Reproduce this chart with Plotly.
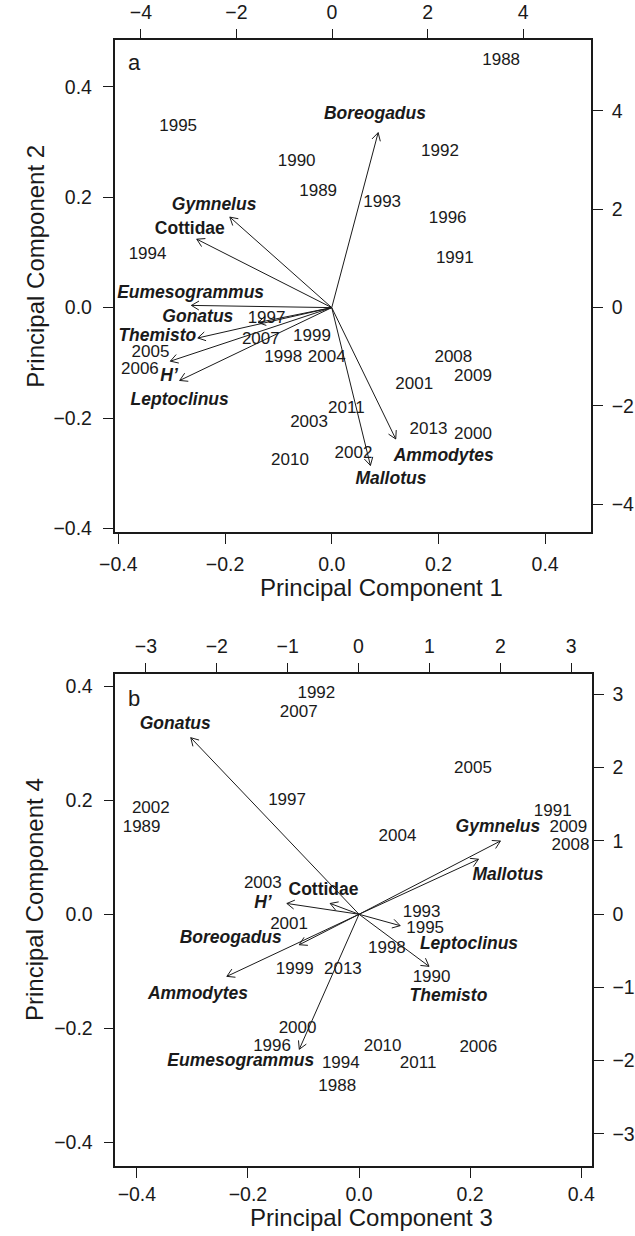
import plotly.graph_objects as go
import math

W, H = 635, 1236
FONT = "Liberation Sans, Arial, Helvetica, sans-serif"
INK = "#1a1a1a"

# ---------------- Panel a: PC1 vs PC2 ----------------
a_species = ["Boreogadus", "Gymnelus", "Cottidae", "Eumesogrammus", "Gonatus",
             "Themisto", "H’", "Leptoclinus", "Ammodytes", "Mallotus"]
a_italic = [True, True, False, True, True, True, True, True, True, True]
a_load_x = [0.087, -0.191, -0.253, -0.263, -0.138, -0.251, -0.3025, -0.285, 0.120, 0.0725]
a_load_y = [0.317, 0.164, 0.124, 0.004, -0.027, -0.055, -0.097, -0.132, -0.238, -0.286]
a_lab_x = [0.081, -0.2205, -0.266, -0.2645, -0.251, -0.327, -0.305, -0.285, 0.210, 0.111]
a_lab_y = [0.350, 0.184, 0.142, 0.026, -0.0174, -0.053, -0.1255, -0.169, -0.270, -0.312]

a_years = ["1988", "1995", "1990", "1992", "1989", "1993", "1996", "1994", "1991",
           "1997", "2007", "1999", "2005", "1998", "2004", "2006", "2008", "2009",
           "2001", "2011", "2003", "2013", "2000", "2002", "2010"]
a_year_x = [3.54, -3.22, -0.74, 2.26, -0.29, 1.05, 2.42, -3.86, 2.57,
            -1.37, -1.49, -0.42, -3.80, -1.02, -0.11, -4.02, 2.54, 2.95,
            1.72, 0.30, -0.48, 2.02, 2.95, 0.45, -0.88]
a_year_y = [5.02, 3.68, 2.97, 3.17, 2.36, 2.13, 1.80, 1.08, 1.00,
            -0.23, -0.65, -0.59, -0.93, -1.03, -1.02, -1.26, -1.03, -1.40,
            -1.58, -2.06, -2.34, -2.49, -2.59, -2.98, -3.12]

a_xrange = [-0.407, 0.486]
a_yrange = [-0.407, 0.484]
a_x2range = [-4.55, 5.42]
a_y2range = [-4.57, 5.43]
a_ticks = [-0.4, -0.2, 0.0, 0.2, 0.4]
a_ticktext = ["−0.4", "−0.2", "0.0", "0.2", "0.4"]
a_ticks2 = [-4, -2, 0, 2, 4]
a_ticktext2 = ["−4", "−2", "0", "2", "4"]

# ---------------- Panel b: PC3 vs PC4 ----------------
b_species = ["Gonatus", "Gymnelus", "Mallotus", "H’", "Cottidae", "Leptoclinus",
             "Themisto", "Boreogadus", "Ammodytes", "Eumesogrammus"]
b_italic = [True, True, True, True, False, True, True, True, True, True]
b_load_x = [-0.303, 0.2545, 0.215, -0.130, -0.052, 0.074, 0.126, -0.1076, -0.238, -0.1076]
b_load_y = [0.310, 0.1286, 0.0966, 0.019, 0.019, -0.020, -0.0914, -0.0535, -0.109, -0.237]
b_lab_x = [-0.331, 0.250, 0.268, -0.173, -0.064, 0.198, 0.161, -0.231, -0.290, -0.213]
b_lab_y = [0.3335, 0.152, 0.0687, 0.019, 0.041, -0.0535, -0.144, -0.043, -0.141, -0.259]

b_years = ["1992", "2007", "2005", "1997", "2002", "1989", "1991", "2009", "2008",
           "2004", "2003", "1993", "1995", "2001", "1998", "1999", "2013", "1990",
           "2000", "1996", "2010", "2006", "1994", "2011", "1988"]
b_year_x = [-0.595, -0.843, 1.614, -1.008, -2.93, -3.06, 2.74, 2.96, 2.99,
            0.55, -1.35, 0.89, 0.94, -0.98, 0.40, -0.90, -0.22, 1.03,
            -0.86, -1.22, 0.34, 1.69, -0.25, 0.84, -0.30]
b_year_y = [3.00, 2.75, 1.98, 1.54, 1.44, 1.18, 1.40, 1.18, 0.93,
            1.05, 0.41, 0.02, -0.20, -0.145, -0.47, -0.76, -0.76, -0.87,
            -1.56, -1.81, -1.81, -1.83, -2.05, -2.05, -2.36]

b_xrange = [-0.4387, 0.419]
b_yrange = [-0.442, 0.421]
b_x2range = [-3.43, 3.29]
b_y2range = [-3.44, 3.27]
b_ticks = [-0.4, -0.2, 0.0, 0.2, 0.4]
b_ticktext = ["−0.4", "−0.2", "0.0", "0.2", "0.4"]
b_ticks2 = [-3, -2, -1, 0, 1, 2, 3]
b_ticktext2 = ["−3", "−2", "−1", "0", "1", "2", "3"]

# ---------------- layout geometry (pixels) ----------------
A_BOX = dict(l=103.7, r=599.6, t=40.7, b=535.3)
B_BOX = dict(l=104.5, r=600.4, t=678.3, b=1172.7)


def dom(box):
    return [box["l"] / W, box["r"] / W], [1 - box["b"] / H, 1 - box["t"] / H]


def arrow_paths(tx, ty, box, xr, yr, head=9.0, ang=30.0):
    sx = (box["r"] - box["l"]) / (xr[1] - xr[0])
    sy = (box["b"] - box["t"]) / (yr[1] - yr[0])
    xs, ys = [], []
    a = math.radians(ang)
    for x, y in zip(tx, ty):
        xs += [0, x, None]
        ys += [0, y, None]
        px, py = x * sx, y * sy
        n = math.hypot(px, py)
        ux, uy = -px / n, -py / n
        for s in (1, -1):
            c, si = math.cos(s * a), math.sin(s * a)
            bx = (ux * c - uy * si) * head
            by = (ux * si + uy * c) * head
            xs += [x, x + bx / sx, None]
            ys += [y, y + by / sy, None]
    return xs, ys


def fmt(names, italic):
    out = []
    for n, it in zip(names, italic):
        out.append(f"<b><i>{n}</i></b>" if it else f"<b>{n}</b>")
    return out


fig = go.Figure()

panels = [
    dict(box=A_BOX, xr=a_xrange, yr=a_yrange, x2r=a_x2range, y2r=a_y2range,
         lx=a_load_x, ly=a_load_y, labx=a_lab_x, laby=a_lab_y,
         sp=a_species, it=a_italic, yrs=a_years, yx=a_year_x, yy=a_year_y,
         ax=("x", "y", "x2", "y2"), tk=a_ticks, tt=a_ticktext, tk2=a_ticks2, tt2=a_ticktext2,
         sob=4),
    dict(box=B_BOX, xr=b_xrange, yr=b_yrange, x2r=b_x2range, y2r=b_y2range,
         lx=b_load_x, ly=b_load_y, labx=b_lab_x, laby=b_lab_y,
         sp=b_species, it=b_italic, yrs=b_years, yx=b_year_x, yy=b_year_y,
         ax=("x3", "y3", "x4", "y4"), tk=b_ticks, tt=b_ticktext, tk2=b_ticks2, tt2=b_ticktext2,
         sob=0),
]

for p in panels:
    xa, ya, xa2, ya2 = p["ax"]
    xs, ys = arrow_paths(p["lx"], p["ly"], p["box"], p["xr"], p["yr"])
    fig.add_trace(go.Scatter(x=xs, y=ys, mode="lines", xaxis=xa, yaxis=ya,
                             line=dict(color=INK, width=1), hoverinfo="skip", showlegend=False))
    fig.add_trace(go.Scatter(x=p["labx"], y=p["laby"], mode="text", xaxis=xa, yaxis=ya,
                             text=fmt(p["sp"], p["it"]), textposition="middle center",
                             textfont=dict(family=FONT, size=17.5, color=INK), showlegend=False))
    fig.add_trace(go.Scatter(x=p["yx"], y=p["yy"], mode="text", xaxis=xa2, yaxis=ya2,
                             text=p["yrs"], textposition="middle center",
                             textfont=dict(family=FONT, size=17, color=INK), showlegend=False))

common = dict(showgrid=False, zeroline=False, showline=True, linecolor=INK, linewidth=1.6,
              ticks="outside", ticklen=10, tickwidth=1.1, tickcolor=INK,
              tickfont=dict(family=FONT, size=19.5, color=INK), mirror=False)

for p, (k1, k2, k3, k4) in zip(panels, [("xaxis", "yaxis", "xaxis2", "yaxis2"),
                                        ("xaxis3", "yaxis3", "xaxis4", "yaxis4")]):
    xd, yd = dom(p["box"])
    xa, ya, xa2, ya2 = p["ax"]
    fig.update_layout({
        k1: dict(common, domain=xd, range=p["xr"], anchor=ya, side="bottom",
                 tickvals=p["tk"], ticktext=p["tt"], ticklabelstandoff=p["sob"]),
        k2: dict(common, domain=yd, range=p["yr"], anchor=xa, side="left",
                 tickvals=p["tk"], ticktext=p["tt"], ticklabelstandoff=7),
        k3: dict(common, range=p["x2r"], anchor=ya2, overlaying=xa, side="top",
                 tickvals=p["tk2"], ticktext=p["tt2"], ticklabelstandoff=2),
        k4: dict(common, range=p["y2r"], anchor=xa2, overlaying=ya, side="right",
                 tickvals=p["tk2"], ticktext=p["tt2"], ticklabelstandoff=5),
    })

ann = []
titles = [
    ("Principal Component 1", 382, 591, 0),
    ("Principal Component 2", 21, 268, -90),
    ("Principal Component 3", 371, 1224, 0),
    ("Principal Component 4", 21, 905, -90),
]
for t, x, y, a in titles:
    ann.append(dict(text=t, x=x / W, y=1 - y / H, xref="paper", yref="paper", showarrow=False,
                    textangle=a, xanchor="center", yanchor="middle",
                    font=dict(family=FONT, size=24, color=INK)))
for t, x, y in [("a", 124, 63), ("b", 124, 702)]:
    ann.append(dict(text=t, x=x / W, y=1 - y / H, xref="paper", yref="paper", showarrow=False,
                    xanchor="center", yanchor="middle",
                    font=dict(family=FONT, size=22, color=INK)))

fig.update_layout(width=W, height=H, margin=dict(l=0, r=0, t=0, b=0),
                  paper_bgcolor="white", plot_bgcolor="white", showlegend=False,
                  annotations=ann)

fig.write_html("out.html")
